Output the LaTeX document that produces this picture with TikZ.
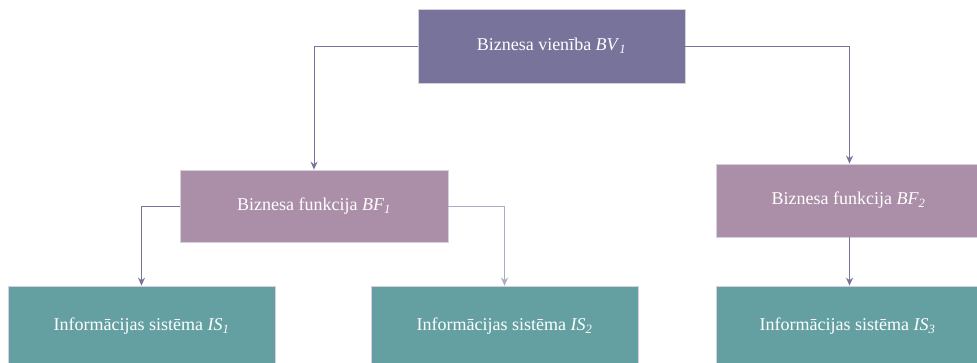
\documentclass[tikz,border=0pt]{standalone}
\usepackage{fontspec}
\setmainfont{Liberation Serif}
\usetikzlibrary{arrows.meta}

\definecolor{unitfill}{HTML}{77739B}
\definecolor{funcfill}{HTML}{AB8EA8}
\definecolor{sysfill}{HTML}{64A0A2}
\definecolor{edgeline}{HTML}{D4D0E0}
\definecolor{linkcol}{HTML}{77739B}

\tikzset{
  box/.style={draw=edgeline, line width=0.8pt, text=white, align=center,
    font=\fontsize{18}{21}\selectfont, inner sep=0pt},
  unitbox/.style={box, fill=unitfill, minimum width=267pt, minimum height=74pt},
  funcbox/.style={box, fill=funcfill, minimum width=268pt, minimum height=72pt},
  sysbox/.style={box, fill=sysfill, minimum width=267pt, minimum height=80pt},
  link/.style={draw=linkcol, line width=1pt,
    -{Stealth[length=8pt,width=7pt]}},
}
\newcommand{\lbl}[2]{\textit{#1}\textsubscript{\textit{#2}}}

\begin{document}
\begin{tikzpicture}[x=1pt, y=-1pt]
  \clip (0,0) rectangle (977,362);
  \fill[white] (0,0) rectangle (977,362);

  % top level: business unit
  \node[unitbox] (bv) at (551.5,46) {Biznesa vienība \lbl{BV}{1}};

  % business functions
  \node[funcbox] (bf1) at (314,206) {Biznesa funkcija \lbl{BF}{1}};
  \node[funcbox, minimum width=267pt, minimum height=73pt] (bf2) at (849.5,200.5)
    {\hspace*{-2pt}Biznesa funkcija \lbl{BF}{2}};

  % information systems
  \node[sysbox] (is1) at (141.5,326) {Informācijas sistēma \lbl{IS}{1}};
  \node[sysbox] (is2) at (504.5,326) {Informācijas sistēma \lbl{IS}{2}};
  \node[sysbox] (is3) at (849.5,326) {\hspace*{-4pt}Informācijas sistēma \lbl{IS}{3}};

  % connectors
  \draw[link] (bv.west) -- (314,46) -- (bf1.north);
  \draw[link] (bv.east) -- (849.5,46) -- (bf2.north);
  \draw[link] (bf1.west) -- (141.5,206) -- (is1.north);
  \draw[link, draw=linkcol!60] (bf1.east) -- (504.5,206) -- (is2.north);
  \draw[link] (bf2.south) -- (is3.north);
\end{tikzpicture}
\end{document}
